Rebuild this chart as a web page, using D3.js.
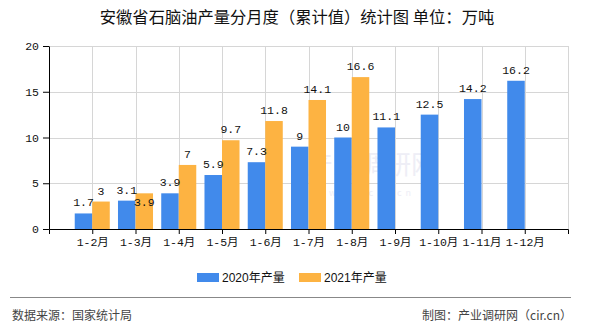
<!DOCTYPE html>
<html>
<head>
<meta charset="utf-8">
<script src="https://cdn.jsdelivr.net/npm/d3@7/dist/d3.min.js"></script>
<style>
  html, body { margin: 0; padding: 0; background: #fff; }
  svg { display: block; }
</style>
</head>
<body>
<svg id="chart" width="590" height="330"></svg>
<script>
// Monthly cumulative naphtha output in Anhui province (unit: 10k tonnes)
const categories = ["1-2月", "1-3月", "1-4月", "1-5月", "1-6月", "1-7月", "1-8月", "1-9月", "1-10月", "1-11月", "1-12月"];
const values2020 = [1.7, 3.1, 3.9, 5.9, 7.3, 9, 10, 11.1, 12.5, 14.2, 16.2];
const values2021 = [3, 3.9, 7, 9.7, 11.8, 14.1, 16.6];
const seriesNames = ["2020年产量", "2021年产量"];
const yTicks = [0, 5, 10, 15, 20];

const colors = ["#418AEB", "#FDB342"];
const CJK = "'Noto Sans CJK SC', sans-serif";
const MONO = "'Liberation Mono', 'Noto Sans CJK SC', monospace";

const svg = d3.select("#chart");
const plotLeft = 49, plotRight = 568, plotTop = 46, plotBottom = 229;

const x = d3.scalePoint().domain(categories).range([plotLeft, plotRight]).padding(1);
const y = d3.scaleLinear().domain([0, 20]).range([plotBottom, plotTop]);
const barW = x.step() * 0.405;

// Title
svg.append("text")
  .attr("x", 297).attr("y", 23)
  .attr("text-anchor", "middle")
  .attr("font-family", CJK).attr("font-size", 16.3).attr("fill", "#111")
  .text("安徽省石脑油产量分月度（累计值）统计图 单位：万吨");

// Faint site watermark
const mark = svg.append("g").attr("fill", "#eeeef6").attr("text-anchor", "middle").attr("font-family", CJK);
mark.append("text").attr("x", 372).attr("y", 174).attr("font-size", 26).text("产业调研网");
mark.append("text").attr("x", 372).attr("y", 196).attr("font-size", 9).attr("letter-spacing", 4).text("www.cir.cn");

// Gridlines
const grid = svg.append("g").attr("stroke", "#d6d6d6").attr("stroke-width", 1);
yTicks.filter(t => t > 0).forEach(t => {
  grid.append("line")
    .attr("x1", plotLeft).attr("x2", plotRight)
    .attr("y1", Math.round(y(t)) + 0.5).attr("y2", Math.round(y(t)) + 0.5);
});
categories.forEach(c => {
  grid.append("line")
    .attr("x1", Math.round(x(c)) + 0.5).attr("x2", Math.round(x(c)) + 0.5)
    .attr("y1", plotTop).attr("y2", plotBottom);
});
grid.append("line")
  .attr("x1", plotRight + 0.5).attr("x2", plotRight + 0.5)
  .attr("y1", plotTop).attr("y2", plotBottom);

// Bars
const series = [values2020, values2021];
series.forEach((vals, si) => {
  svg.append("g").selectAll("rect")
    .data(vals)
    .join("rect")
    .attr("x", (d, i) => si === 0 ? x(categories[i]) - barW : x(categories[i]))
    .attr("width", barW)
    .attr("y", d => y(d))
    .attr("height", d => y(0) - y(d))
    .attr("fill", colors[si]);
});

// Value labels; a 2021 label that would collide with its 2020 neighbour goes inside its bar
const labels = svg.append("g")
  .attr("font-family", MONO).attr("font-size", 11.5).attr("fill", "#111")
  .attr("text-anchor", "middle");
values2020.forEach((d, i) => {
  labels.append("text")
    .attr("x", x(categories[i]) - barW / 2)
    .attr("y", y(d) - 7)
    .text(d);
});
values2021.forEach((d, i) => {
  const yb = y(values2020[i]) - 7;
  let yo = y(d) - 7;
  if (Math.abs(yb - yo) < 10) yo = y(d) + 13;
  labels.append("text")
    .attr("x", x(categories[i]) + barW / 2)
    .attr("y", yo)
    .text(d);
});

// Axes
const xAxis = svg.append("g")
  .attr("transform", `translate(0,${plotBottom})`)
  .call(d3.axisBottom(x).tickSize(5).tickSizeOuter(5));
const yAxis = svg.append("g")
  .attr("transform", `translate(${plotLeft},0)`)
  .call(d3.axisLeft(y).tickValues(yTicks).tickSize(6).tickSizeOuter(0));
[xAxis, yAxis].forEach(a => {
  a.selectAll("path, line").attr("stroke", "#000");
  a.selectAll("text").attr("fill", "#111").attr("font-family", MONO).attr("font-size", 11.5);
});
xAxis.selectAll("text").attr("dy", "0.71em").attr("y", 9);
yAxis.selectAll("text").attr("x", -10);

// Legend
const legend = svg.append("g").attr("font-family", "'Liberation Sans', 'Noto Sans CJK SC', sans-serif").attr("font-size", 12);
const legendX = [197, 299];
seriesNames.forEach((name, i) => {
  legend.append("rect")
    .attr("x", legendX[i]).attr("y", 273)
    .attr("width", 22).attr("height", 9)
    .attr("fill", colors[i]);
  legend.append("text")
    .attr("x", legendX[i] + 25).attr("y", 282)
    .attr("fill", "#111")
    .text(name);
});

// Footer
svg.append("line")
  .attr("x1", 10).attr("x2", 571)
  .attr("y1", 297.5).attr("y2", 297.5)
  .attr("stroke", "#888").attr("stroke-width", 1);
svg.append("text")
  .attr("x", 12).attr("y", 320)
  .attr("font-family", CJK).attr("font-size", 12).attr("fill", "#444")
  .text("数据来源：国家统计局");
svg.append("text")
  .attr("x", 572).attr("y", 320)
  .attr("text-anchor", "end")
  .attr("font-family", CJK).attr("font-size", 12).attr("fill", "#444")
  .text("制图：产业调研网（cir.cn）");
</script>
</body>
</html>
